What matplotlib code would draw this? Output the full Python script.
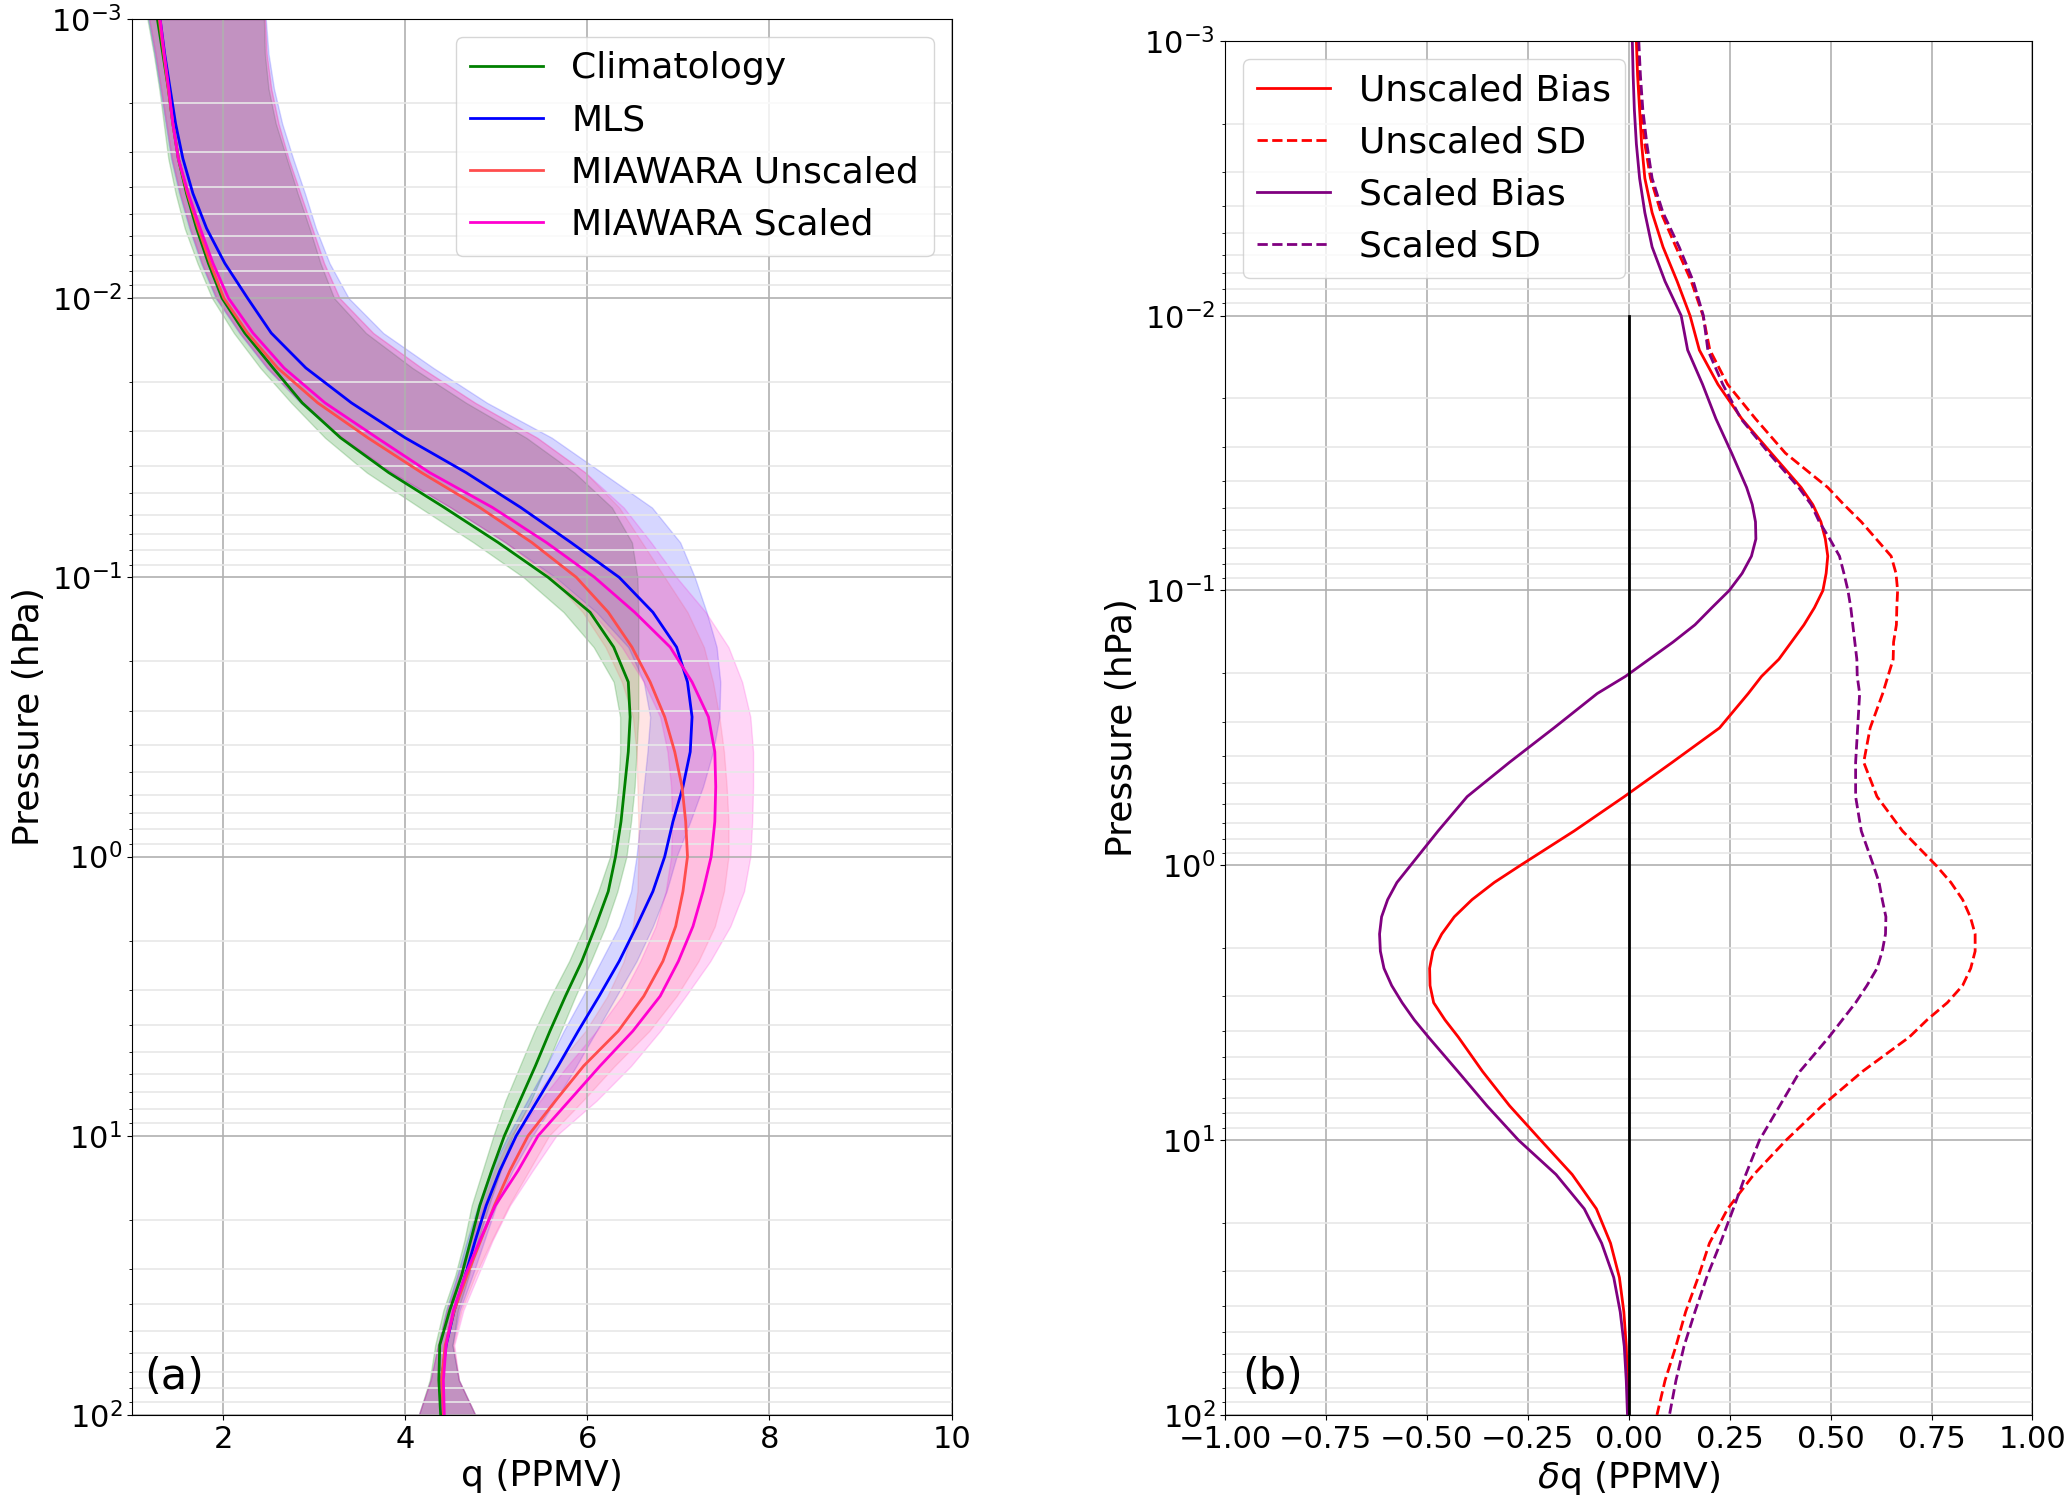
import numpy as np
import matplotlib
matplotlib.use("Agg")
import matplotlib.pyplot as plt
from matplotlib.ticker import LogLocator, NullFormatter

# pressure levels (hPa) for panel (a), given as log10 exponents
p_exp = [-3, -2.875, -2.75, -2.625, -2.5, -2.375, -2.25, -2.125, -2,
         -1.875, -1.75, -1.625, -1.5, -1.375, -1.25, -1.125, -1,
         -0.875, -0.75, -0.625, -0.5, -0.375, -0.25, -0.125, 0,
         0.125, 0.25, 0.375, 0.5, 0.625, 0.75, 0.875, 1,
         1.125, 1.25, 1.375, 1.5, 1.625, 1.75, 1.875, 2]

# panel (a): water vapour profiles (PPMV) and their spread
clim = [1.28, 1.34, 1.40, 1.45, 1.51, 1.60, 1.71, 1.84, 1.99,
        2.24, 2.55, 2.87, 3.29, 3.82, 4.43, 5.02, 5.57,
        6.03, 6.29, 6.45, 6.47, 6.45, 6.41, 6.37, 6.31,
        6.23, 6.09, 5.94, 5.76, 5.59, 5.43, 5.26, 5.09,
        4.95, 4.82, 4.72, 4.62, 4.49, 4.38, 4.37, 4.39]
clim_lo = [1.17, 1.24, 1.30, 1.35, 1.40, 1.48, 1.58, 1.72, 1.88,
           2.12, 2.41, 2.75, 3.12, 3.58, 4.16, 4.75, 5.30,
           5.74, 6.07, 6.29, 6.36, 6.36, 6.34, 6.30, 6.25,
           6.12, 5.97, 5.80, 5.60, 5.42, 5.26, 5.10, 4.97,
           4.85, 4.73, 4.65, 4.55, 4.42, 4.33, 4.27, 4.15]
clim_hi = [2.45, 2.46, 2.50, 2.58, 2.70, 2.82, 2.95, 3.07, 3.22,
           3.57, 4.08, 4.67, 5.33, 5.86, 6.27, 6.49, 6.55,
           6.56, 6.56, 6.56, 6.56, 6.54, 6.52, 6.48, 6.43,
           6.33, 6.20, 6.04, 5.87, 5.71, 5.55, 5.38, 5.18,
           5.05, 4.92, 4.80, 4.70, 4.58, 4.52, 4.59, 4.77]

mls = [1.31, 1.36, 1.42, 1.48, 1.56, 1.67, 1.82, 2.02, 2.27,
       2.53, 2.91, 3.41, 4.00, 4.67, 5.27, 5.82, 6.35,
       6.72, 6.98, 7.10, 7.15, 7.13, 7.05, 6.94, 6.85,
       6.72, 6.54, 6.35, 6.13, 5.90, 5.68, 5.45, 5.22,
       5.04, 4.89, 4.77, 4.66, 4.54, 4.45, 4.40, 4.42]
mls_lo = [1.18, 1.25, 1.31, 1.37, 1.43, 1.52, 1.63, 1.76, 1.92,
          2.18, 2.48, 2.85, 3.30, 3.85, 4.50, 5.10, 5.65,
          6.10, 6.45, 6.62, 6.69, 6.66, 6.62, 6.58, 6.54,
          6.48, 6.35, 6.15, 5.95, 5.74, 5.55, 5.34, 5.13,
          4.94, 4.80, 4.68, 4.57, 4.45, 4.36, 4.28, 4.15]
mls_hi = [2.47, 2.50, 2.56, 2.65, 2.77, 2.90, 3.02, 3.17, 3.38,
          3.76, 4.31, 4.90, 5.61, 6.16, 6.71, 7.02, 7.18,
          7.31, 7.42, 7.46, 7.45, 7.38, 7.27, 7.13, 6.98,
          6.87, 6.72, 6.54, 6.32, 6.10, 5.88, 5.65, 5.40,
          5.18, 5.00, 4.87, 4.74, 4.60, 4.52, 4.59, 4.77]

unscaled = [1.30, 1.35, 1.40, 1.45, 1.51, 1.61, 1.73, 1.86, 2.01,
            2.27, 2.60, 3.04, 3.59, 4.18, 4.82, 5.39, 5.88,
            6.23, 6.49, 6.69, 6.85, 6.96, 7.04, 7.08, 7.10,
            7.05, 6.97, 6.83, 6.62, 6.34, 5.96, 5.65, 5.35,
            5.15, 4.98, 4.83, 4.68, 4.54, 4.44, 4.40, 4.42]
unscaled_lo = [1.19, 1.26, 1.32, 1.38, 1.44, 1.53, 1.64, 1.77, 1.93,
               2.19, 2.49, 2.86, 3.31, 3.86, 4.50, 5.10, 5.60,
               5.95, 6.20, 6.38, 6.50, 6.54, 6.55, 6.56, 6.56,
               6.55, 6.50, 6.40, 6.22, 5.98, 5.66, 5.40, 5.16,
               4.98, 4.84, 4.72, 4.60, 4.46, 4.36, 4.28, 4.15]
unscaled_hi = [2.46, 2.48, 2.53, 2.61, 2.72, 2.85, 2.98, 3.11, 3.28,
               3.65, 4.18, 4.77, 5.45, 5.98, 6.35, 6.60, 6.85,
               7.10, 7.28, 7.38, 7.45, 7.50, 7.53, 7.55, 7.55,
               7.50, 7.40, 7.22, 6.98, 6.68, 6.30, 5.95, 5.58,
               5.36, 5.14, 4.95, 4.77, 4.62, 4.53, 4.59, 4.77]

scaled = [1.31, 1.355, 1.405, 1.45, 1.51, 1.62, 1.75, 1.89, 2.06,
          2.33, 2.67, 3.12, 3.69, 4.27, 4.96, 5.55, 6.08,
          6.52, 6.91, 7.15, 7.33, 7.40, 7.41, 7.40, 7.36,
          7.27, 7.16, 7.00, 6.80, 6.50, 6.14, 5.80, 5.46,
          5.24, 4.99, 4.82, 4.66, 4.53, 4.45, 4.42, 4.43]
scaled_lo = [1.19, 1.26, 1.32, 1.38, 1.44, 1.53, 1.64, 1.77, 1.93,
             2.19, 2.49, 2.86, 3.31, 3.86, 4.50, 5.10, 5.62,
             6.05, 6.38, 6.62, 6.80, 6.88, 6.92, 6.93, 6.92,
             6.86, 6.75, 6.58, 6.38, 6.10, 5.78, 5.48, 5.22,
             5.03, 4.86, 4.72, 4.58, 4.46, 4.36, 4.28, 4.15]
scaled_hi = [2.46, 2.48, 2.53, 2.61, 2.72, 2.85, 2.98, 3.11, 3.28,
             3.65, 4.18, 4.77, 5.45, 5.98, 6.40, 6.70, 6.98,
             7.30, 7.55, 7.70, 7.79, 7.82, 7.82, 7.81, 7.79,
             7.72, 7.57, 7.35, 7.08, 6.80, 6.48, 6.10, 5.66,
             5.40, 5.15, 4.96, 4.80, 4.64, 4.54, 4.59, 4.77]

# pressure levels for panel (b), denser where the curves turn
p_exp_b = [-3, -2.875, -2.75, -2.625, -2.5, -2.375, -2.25, -2.125, -2,
           -1.875, -1.75, -1.625, -1.5, -1.375,
           -1.3125, -1.25, -1.1875, -1.125, -1.0625, -1, -0.9375, -0.875,
           -0.8125, -0.75, -0.6875, -0.625,
           -0.5, -0.375, -0.25, -0.125, 0,
           0.0625, 0.125, 0.1875, 0.25, 0.3125, 0.375, 0.4375, 0.5, 0.5625, 0.625,
           0.75, 0.875, 1, 1.125, 1.25, 1.375, 1.5, 1.625, 1.75, 1.875, 2]

# panel (b): differences to MLS (PPMV)
bias_unscaled = [0.019, 0.022, 0.027, 0.032, 0.040, 0.058, 0.085, 0.120, 0.152,
                 0.175, 0.221, 0.280, 0.353, 0.427,
                 0.456, 0.476, 0.487, 0.493, 0.489, 0.481, 0.460, 0.434,
                 0.403, 0.372, 0.329, 0.296,
                 0.225, 0.108, -0.011, -0.135, -0.268,
                 -0.333, -0.388, -0.432, -0.463, -0.485, -0.493, -0.492, -0.483, -0.455, -0.422,
                 -0.362, -0.295, -0.218, -0.140, -0.080, -0.045, -0.023, -0.012, -0.006, -0.003, -0.001]
sd_unscaled = [0.022, 0.025, 0.030, 0.040, 0.054, 0.080, 0.117, 0.155, 0.184,
               0.201, 0.245, 0.314, 0.388, 0.493,
               0.533, 0.576, 0.613, 0.650, 0.662, 0.666, 0.664, 0.663,
               0.656, 0.655, 0.642, 0.629,
               0.598, 0.582, 0.615, 0.678, 0.761,
               0.798, 0.827, 0.846, 0.858, 0.858, 0.847, 0.827, 0.789, 0.739, 0.695,
               0.579, 0.479, 0.390, 0.310, 0.245, 0.200, 0.172, 0.141, 0.117, 0.090, 0.070]
bias_scaled = [0.009, 0.011, 0.014, 0.019, 0.027, 0.040, 0.058, 0.090, 0.130,
               0.146, 0.183, 0.216, 0.255, 0.292,
               0.306, 0.314, 0.315, 0.304, 0.281, 0.249, 0.206, 0.164,
               0.110, 0.051, -0.008, -0.078,
               -0.185, -0.295, -0.400, -0.472, -0.540,
               -0.574, -0.597, -0.612, -0.617, -0.615, -0.606, -0.587, -0.561, -0.531, -0.496,
               -0.423, -0.351, -0.273, -0.180, -0.110, -0.067, -0.037, -0.021, -0.011, -0.006, -0.003]
sd_scaled = [0.025, 0.029, 0.035, 0.045, 0.058, 0.085, 0.125, 0.160, 0.185,
             0.196, 0.233, 0.278, 0.347, 0.421,
             0.452, 0.472, 0.498, 0.522, 0.533, 0.543, 0.550, 0.555,
             0.560, 0.565, 0.566, 0.572,
             0.567, 0.562, 0.562, 0.576, 0.606,
             0.620, 0.628, 0.637, 0.636, 0.628, 0.615, 0.590, 0.562, 0.529, 0.496,
             0.424, 0.374, 0.324, 0.290, 0.259, 0.227, 0.193, 0.164, 0.137, 0.117, 0.101]

p = 10.0 ** np.array(p_exp)
pb = 10.0 ** np.array(p_exp_b)

plt.rcParams['font.family'] = ['DejaVu Sans']
plt.rcParams['xtick.labelsize'] = 22
plt.rcParams['ytick.labelsize'] = 22
plt.rcParams['axes.labelsize'] = 26
plt.rcParams['legend.fontsize'] = 26

fig = plt.figure(figsize=(20.67, 15.03), dpi=100)
ax1 = fig.add_axes([0.0638, 0.0586, 0.3966, 0.9288])
ax2 = fig.add_axes([0.5926, 0.0586, 0.3907, 0.9142])

# panel a
series = [
    (clim, clim_lo, clim_hi, 'green', 0.2, 'Climatology'),
    (mls, mls_lo, mls_hi, 'blue', 0.16, 'MLS'),
    (unscaled, unscaled_lo, unscaled_hi, '#ff4d4d', 0.15, 'MIAWARA Unscaled'),
    (scaled, scaled_lo, scaled_hi, '#ff00d0', 0.16, 'MIAWARA Scaled'),
]
for line, lo, hi, col, a, lab in series:
    ax1.plot(line, p, color=col, lw=2, label=lab)
    ax1.fill_betweenx(p, lo, hi, color=col, alpha=a)

ax1.text(0.015, 0.012, '(a)', transform=ax1.transAxes, fontsize=31,
         ha='left', va='bottom')
ax1.set_xlim(1, 10)
ax1.set_xlabel('q (PPMV)')

# panel b
ax2.plot(bias_unscaled, pb, color='red', lw=2, label='Unscaled Bias')
ax2.plot(sd_unscaled, pb, color='red', lw=2, ls='--', label='Unscaled SD')
ax2.plot(bias_scaled, pb, color='purple', lw=2, label='Scaled Bias')
ax2.plot(sd_scaled, pb, color='purple', lw=2, ls='--', label='Scaled SD')
ax2.plot([0, 0], [1e-2, 1e2], color='black', lw=2)
ax2.text(0.021, 0.012, '(b)', transform=ax2.transAxes, fontsize=31,
         ha='left', va='bottom')
ax2.set_xlim(-1, 1)
ax2.set_xticks(np.arange(-1, 1.01, 0.25))
ax2.set_xlabel(r'$\delta$q (PPMV)')

for ax in (ax1, ax2):
    ax.set_yscale('log')
    ax.set_ylim(1e2, 1e-3)
    ax.yaxis.set_minor_locator(LogLocator(base=10, subs=np.arange(2, 10), numticks=20))
    ax.yaxis.set_minor_formatter(NullFormatter())
    ax.grid(True, which='major', color='#b0b0b0', lw=1.2)
    ax.grid(True, which='minor', axis='y', color='#e8e8e8', lw=1.2)
    ax.set_ylabel('Pressure (hPa)')

ax1.legend(loc='upper right')
ax2.legend(loc='upper left')

fig.savefig('out.png', dpi=100)
